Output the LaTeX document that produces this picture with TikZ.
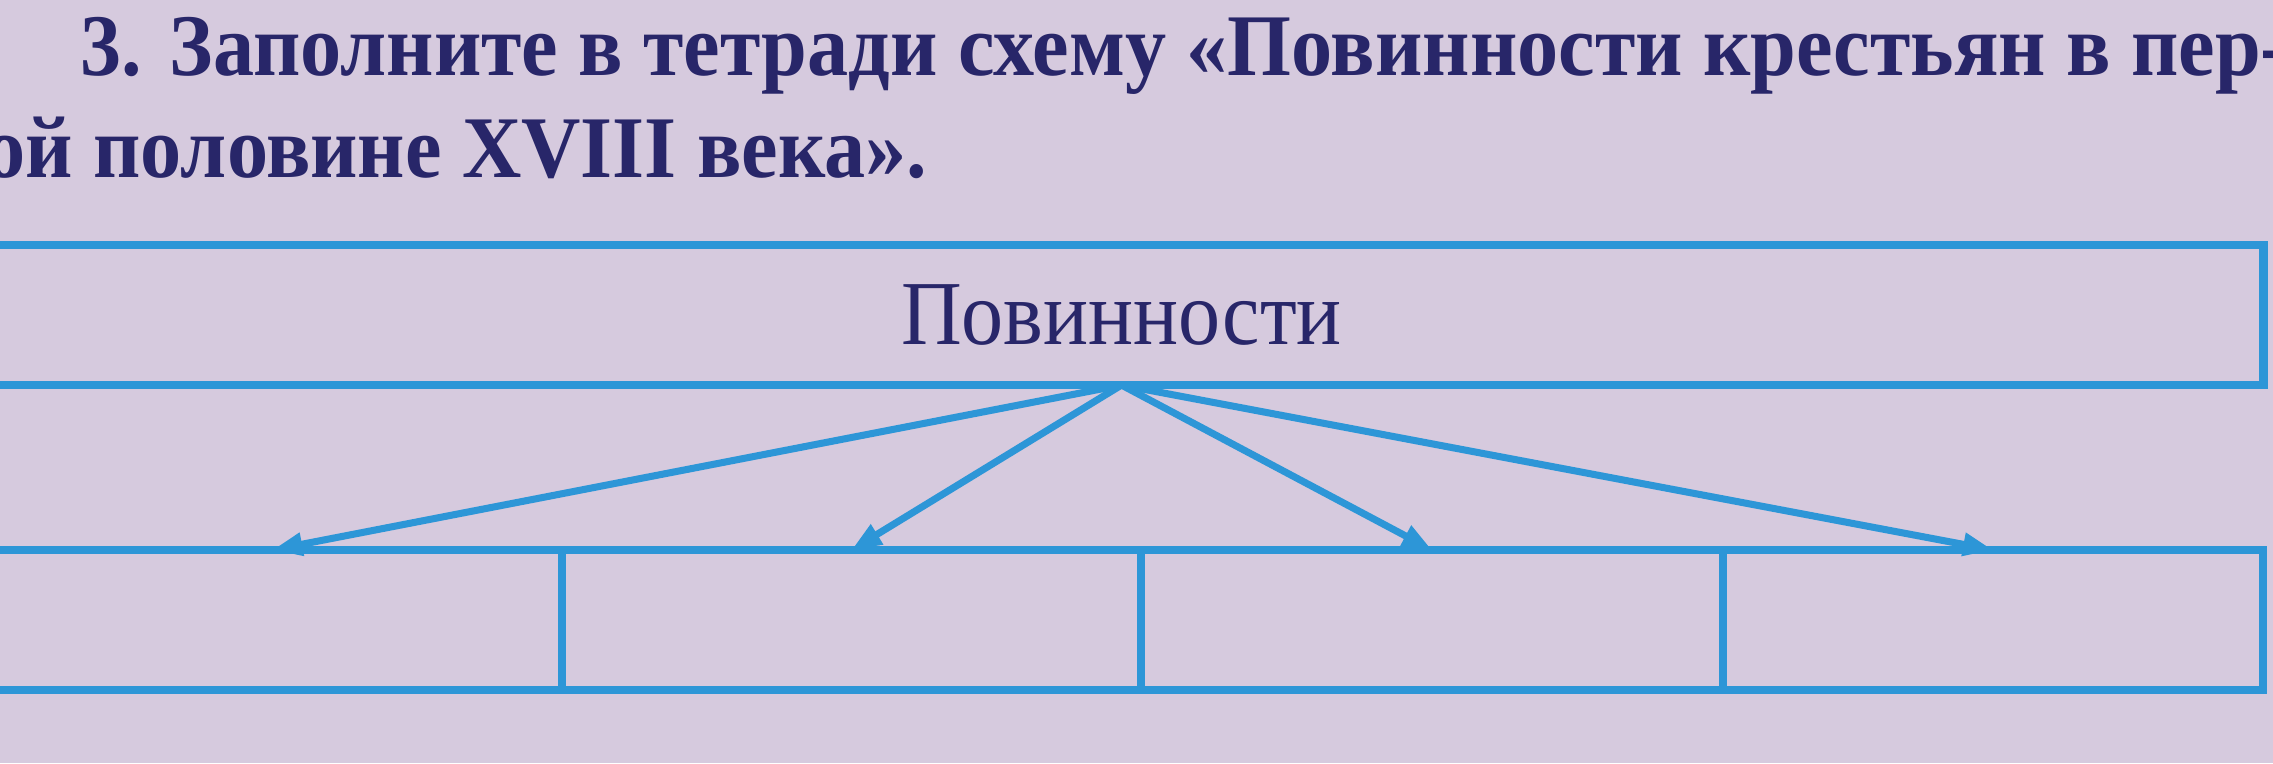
\documentclass[tikz,border=0pt]{standalone}
\usepackage{fontspec}
\setmainfont{Liberation Serif}
\newfontfamily\taskfont{Liberation Serif}[FakeStretch=0.935]
\newfontfamily\boxfont{Liberation Serif}[FakeStretch=0.92]
\usetikzlibrary{arrows.meta, positioning}

\definecolor{screenbg}{RGB}{214,202,222}
\definecolor{schemeblue}{RGB}{45,150,215}
\definecolor{inkblue}{RGB}{40,38,105}

\tikzset{
  cellbox/.style={draw=schemeblue, line width=2.4pt, minimum height=1.4cm, inner sep=0pt, outer sep=0pt},
  linkarrow/.style={-{Triangle[length=0.3cm, width=0.22cm]}, draw=schemeblue, line width=2pt},
  tasktext/.style={inner sep=0pt, text=inkblue, font=\taskfont\fontsize{25}{30}\selectfont\bfseries}
}

\begin{document}
\begin{tikzpicture}[x=0.01cm, y=-0.01cm]

        \useasboundingbox (0,0) rectangle (2273,763);
        \clip (0,0) rectangle (2273,763);
        \fill[screenbg] (0,0) rectangle (2273,763);

        % Task text
        \node[tasktext, anchor=base west] (task1) at (80,75) {3. Заполните в тетради схему «Повинности крестьян в пер-};
        \node[tasktext, anchor=base east] (task2) at (928,177) {вой половине XVIII века».};

        % Top box
        \node[cellbox, minimum width=22.83cm, text=inkblue, font=\boxfont\fontsize{26}{30}\selectfont] (duties) at (1121.5,315) {Повинности};

        % Empty boxes
        \foreach \name/\x/\w in {b1/272.5/5.79cm, b2/851.5/5.79cm, b3/1432/5.82cm, b4/1993/5.4cm}
            \node[cellbox, minimum width=\w] (\name) at (\x,620) {};

        % Arrows
        \foreach \name in {b1,b2,b3,b4}
            \draw[linkarrow] (duties.south) -- (\name.north);

\end{tikzpicture}
\end{document}
